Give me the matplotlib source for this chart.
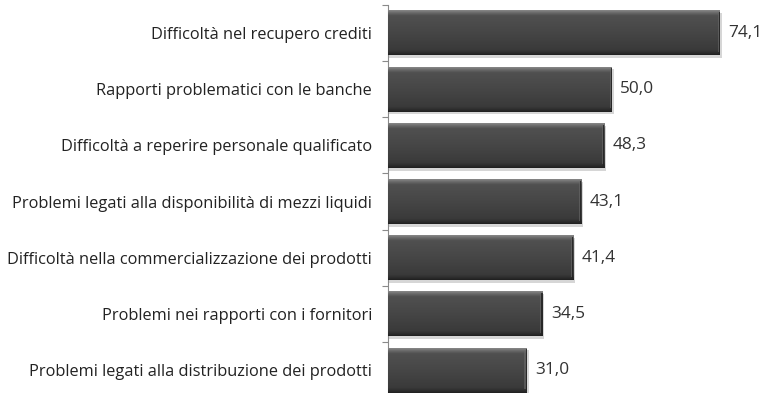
import numpy as np
import matplotlib
matplotlib.use("Agg")
import matplotlib.pyplot as plt
from matplotlib.colors import LinearSegmentedColormap
from matplotlib.patches import Rectangle

categories = [
    "Difficoltà nel recupero crediti",
    "Rapporti problematici con le banche",
    "Difficoltà a reperire personale qualificato",
    "Problemi legati alla disponibilità di mezzi liquidi",
    "Difficoltà nella commercializzazione dei prodotti",
    "Problemi nei rapporti con i fornitori",
    "Problemi legati alla distribuzione dei prodotti",
]
values = [74.1, 50.0, 48.3, 43.1, 41.4, 34.5, 31.0]
value_labels = ["74,1", "50,0", "48,3", "43,1", "41,4", "34,5", "31,0"]

plt.rcParams["font.family"] = ["Open Sans", "DejaVu Sans"]

W, H = 765, 393
fig = plt.figure(figsize=(W / 100, H / 100), dpi=100)
# axes extends slightly below the canvas, as in the original layout
ax_left, ax_right = 388 / W, (388 + 80 * 4.48) / W
ax_top, ax_bot = (H - 4.8) / H, (H - 398.2) / H
ax = fig.add_axes([ax_left, ax_bot, ax_right - ax_left, ax_top - ax_bot])
ax.set_xlim(0, 80)
n = len(categories)
ax.set_ylim(n - 0.5, -0.5)

ypos = np.arange(n)
bar_h = 0.8
bars = ax.barh(ypos, values, height=bar_h, color="#3d3d3d", edgecolor="none", zorder=3)

# vertical shading: light top bevel, dark body, darker bottom edge
shade = LinearSegmentedColormap.from_list(
    "bevel",
    [(0.0, "#8a8a8a"), (0.05, "#6e6e6e"), (0.12, "#505050"),
     (0.5, "#464646"), (0.88, "#3a3a3a"), (0.96, "#2a2a2a"), (1.0, "#1e1e1e")],
)
grad = np.linspace(0, 1, 256).reshape(-1, 1)
for rect, v in zip(bars, values):
    y0 = rect.get_y()
    y1 = y0 + rect.get_height()
    # drop shadow
    ax.add_patch(Rectangle((0.15, y0 + 0.05), v + 0.25, bar_h,
                           facecolor="#000000", alpha=0.16, edgecolor="none", zorder=2))
    im = ax.imshow(grad, extent=(0, v, y1, y0), aspect="auto", cmap=shade,
                   origin="upper", zorder=4, interpolation="bicubic")
    im.set_clip_path(rect)
    # right-end bevel
    ax.add_patch(Rectangle((v - 0.55, y0 + 0.06), 0.25, bar_h - 0.12,
                           facecolor="#6a6a6a", alpha=0.6, edgecolor="none", zorder=5))
    ax.add_patch(Rectangle((v - 0.3, y0 + 0.03), 0.3, bar_h - 0.06,
                           facecolor="#222222", alpha=0.8, edgecolor="none", zorder=5))

for y, v, lab in zip(ypos, values, value_labels):
    ax.annotate(lab, (v, y), xytext=(6, 0), textcoords="offset points",
                va="center", ha="left", fontsize=12.4, color="#333333")

ax.set_yticks(ypos)
ax.set_yticklabels(categories, fontsize=11.8, color="#222222")
ax.tick_params(axis="y", which="major", length=0, pad=11.5)
ax.set_yticks(np.arange(n + 1) - 0.5, minor=True)
ax.tick_params(axis="y", which="minor", length=4, width=0.8, color="#8a8a8a")
ax.set_xticks([])
for s in ["top", "right", "bottom"]:
    ax.spines[s].set_visible(False)
ax.spines["left"].set_color("#8a8a8a")
ax.spines["left"].set_linewidth(0.8)

fig.savefig("out.png", dpi=100)
